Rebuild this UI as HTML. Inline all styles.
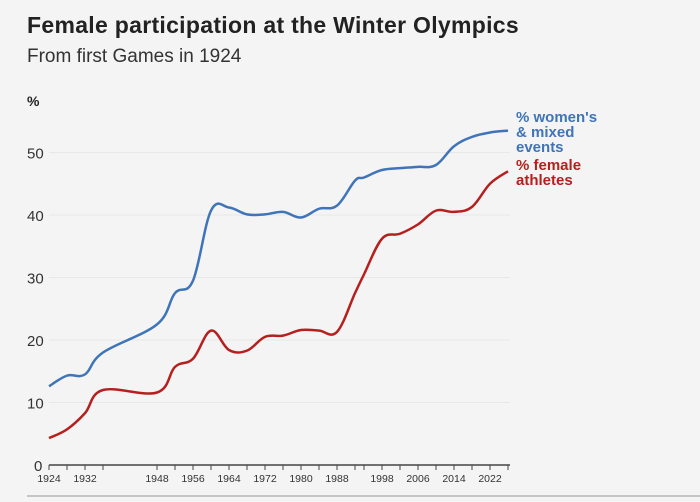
<!DOCTYPE html>
<html><head><meta charset="utf-8"><style>
body{margin:0;background:#fff;}
#c{position:relative;width:700px;height:502px;background:#f4f4f4;overflow:hidden;font-family:"Liberation Sans",sans-serif;}
h1{position:absolute;left:27px;top:12px;margin:0;font-size:23px;font-weight:bold;color:#222;letter-spacing:0.3px}
h2{position:absolute;left:27px;top:46px;margin:0;font-size:19px;font-weight:normal;color:#333}
.lab{position:absolute;font-weight:bold;font-size:15px;line-height:15px}
</style></head><body><div id="c">
<h1>Female participation at the Winter Olympics</h1>
<h2>From first Games in 1924</h2>
<svg id="s" width="700" height="502" style="position:absolute;left:0;top:0" font-family="Liberation Sans, sans-serif"></svg>
<div class="lab" style="left:516px;top:110px;color:#3f74b8">% women's<br>&amp; mixed<br>events</div>
<div class="lab" style="left:516px;top:158px;color:#b5201e">% female<br>athletes</div>
</div>
<script>
const s=document.getElementById('s');let h='';
const X=y=>49+(y-1924)*4.5, Y=v=>465-v*6.25;
h+='<text x="27" y="106" font-size="14" fill="#222" font-weight="bold">%</text>';
[10,20,30,40,50].forEach(v=>{h+=`<line x1="49" x2="510" y1="${Y(v)}" y2="${Y(v)}" stroke="#e8e8e8"/><text x="27" y="${Y(v)+6}" font-size="15" fill="#333">${v}</text>`});
h+=`<text x="34" y="471" font-size="15" fill="#333">0</text>`;
h+=`<line x1="49" x2="510" y1="465" y2="465" stroke="#444" stroke-width="1.5"/>`;
const yrs=[1924,1928,1932,1936,1948,1952,1956,1960,1964,1968,1972,1976,1980,1984,1988,1992,1994,1998,2002,2006,2010,2014,2018,2022,2026];
yrs.forEach(y=>h+=`<line x1="${X(y)}" x2="${X(y)}" y1="465" y2="470" stroke="#444"/>`);
[1924,1932,1948,1956,1964,1972,1980,1988,1998,2006,2014,2022].forEach(y=>h+=`<text x="${X(y)}" y="482" font-size="10.5" fill="#333" text-anchor="middle">${y}</text>`);
h+=`<line x1="27" x2="700" y1="496" y2="496" stroke="#999" stroke-width="1"/>`;
const blue=[12.6,14.3,14.5,18,22.5,27.5,29.5,40.7,41.2,40.1,40.1,40.5,39.6,41,41.5,45.5,46,47.2,47.5,47.7,48,51,52.5,53.2,53.5];
const red=[4.3,5.7,8.3,12,11.6,15.7,17,21.5,18.4,18.3,20.5,20.7,21.6,21.5,21.3,27.5,30.5,36.2,37,38.5,40.7,40.5,41.3,45,47];
function path(d){const p=yrs.map((y,i)=>[X(y),Y(d[i])]);let o=`M${p[0]}`;
for(let i=0;i<p.length-1;i++){const a=p[i-1]||p[i],b=p[i],c=p[i+1],e=p[i+2]||c;const t=0.18;
o+=`C${b[0]+(c[0]-a[0])*t},${b[1]+(c[1]-a[1])*t} ${c[0]-(e[0]-b[0])*t},${c[1]-(e[1]-b[1])*t} ${c[0]},${c[1]}`}return o}
h+=`<path d="${path(blue)}" fill="none" stroke="#3f74b8" stroke-width="2.5"/>`;
h+=`<path d="${path(red)}" fill="none" stroke="#b5201e" stroke-width="2.5"/>`;
s.innerHTML=h;
</script></body></html>
